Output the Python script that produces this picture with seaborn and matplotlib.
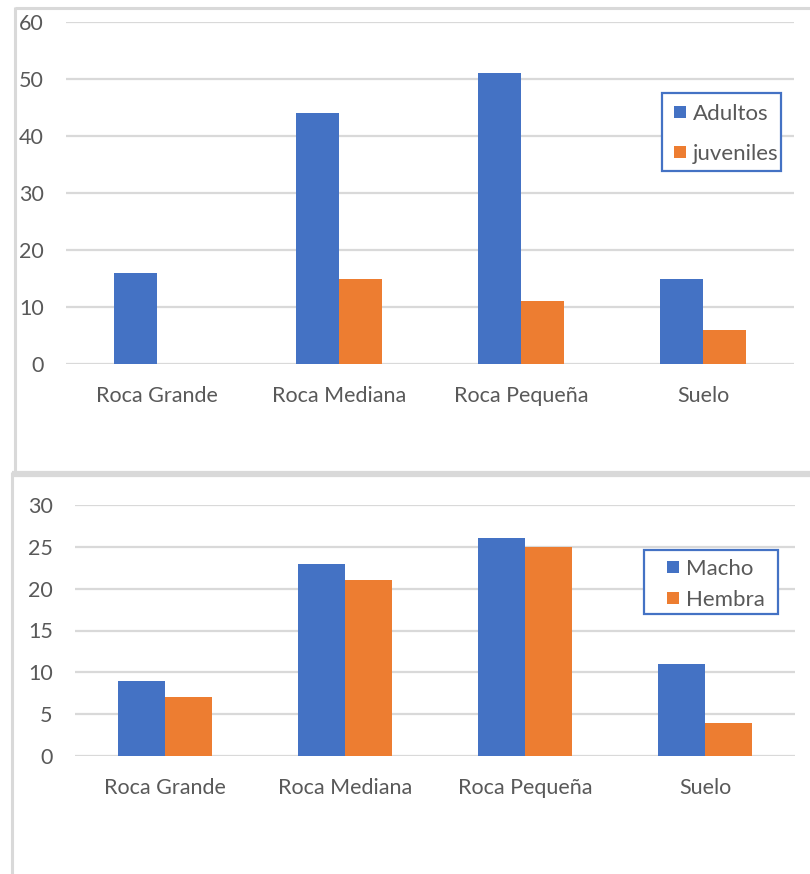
import matplotlib
matplotlib.use("Agg")
import matplotlib.pyplot as plt
from matplotlib.patches import Rectangle
from matplotlib.lines import Line2D
import seaborn as sns
import pandas as pd

# Data
categorias = ["Roca Grande", "Roca Mediana", "Roca Pequeña", "Suelo"]
adultos = [16, 44, 51, 15]
juveniles = [0, 15, 11, 6]
machos = [9, 23, 26, 11]
hembras = [7, 21, 25, 4]

AZUL = "#4472C4"
NARANJA = "#ED7D31"
GRIS_TEXTO = "#595959"
GRIS_LINEA = "#D9D9D9"

sns.set_theme(style="white")
plt.rcParams["font.family"] = ["Lato", "DejaVu Sans"]

W, H = 810, 874
fig = plt.figure(figsize=(W / 100, H / 100), dpi=100)


def caja(x0, y0, x1, y1):
    """Axes rectangle from pixel coordinates (origin top-left)."""
    return [x0 / W, 1 - y1 / H, (x1 - x0) / W, (y1 - y0) / H]


def fx(x):
    return x / W


def fy(y):
    return 1 - y / H


def linea(x0, y0, x1, y1, lw=2.2):
    fig.add_artist(Line2D([fx(x0), fx(x1)], [fy(y0), fy(y1)], transform=fig.transFigure,
                          color=GRIS_LINEA, linewidth=lw, solid_capstyle="butt"))


# Chart frames
linea(15, 8, 812, 8)
linea(15, 7, 15, 473)
linea(12, 473.5, 812, 473.5, lw=4.5)
linea(12, 472, 12, 876)


def grafico(ax, serie_a, serie_b, nombres, ymax, paso, ancho):
    df = pd.DataFrame({
        "categoria": categorias * 2,
        "valor": serie_a + serie_b,
        "serie": [nombres[0]] * len(categorias) + [nombres[1]] * len(categorias),
    })
    sns.barplot(data=df, x="categoria", y="valor", hue="serie",
                palette=[AZUL, NARANJA], width=ancho, ax=ax,
                legend=False, saturation=1, errorbar=None, linewidth=0)
    ax.set_xlim(-0.5, len(categorias) - 0.5)
    ax.set_ylim(0, ymax)
    ax.set_yticks(range(0, ymax + 1, paso))
    ax.set_xlabel("")
    ax.set_ylabel("")
    for s in ax.spines.values():
        s.set_visible(False)
    ax.grid(False)
    for v in range(0, ymax + 1, paso):
        ax.axhline(v, color=GRIS_LINEA, linewidth=1.6, zorder=0)
    ax.set_axisbelow(True)
    ax.tick_params(axis="both", length=0, labelsize=15.5, colors=GRIS_TEXTO)
    ax.tick_params(axis="y", pad=16)
    ax.tick_params(axis="x", pad=16)
    ax.patch.set_alpha(0)


ax1 = fig.add_axes(caja(66, 22, 794, 364))
grafico(ax1, adultos, juveniles, ["Adultos", "juveniles"], 60, 10, 0.47)

ax2 = fig.add_axes(caja(75, 505, 795, 756))
grafico(ax2, machos, hembras, ["Macho", "Hembra"], 30, 5, 0.52)


def leyenda(nombres, marco, x_marca, ys):
    x0, y0, x1, y1 = marco
    fig.add_artist(Rectangle((fx(x0), fy(y1)), fx(x1) - fx(x0), fy(y0) - fy(y1),
                             transform=fig.transFigure, facecolor="white",
                             edgecolor=AZUL, linewidth=1.6))
    for nombre, color, y in zip(nombres, [AZUL, NARANJA], ys):
        fig.add_artist(Rectangle((fx(x_marca), fy(y + 6)), fx(12), fy(0) - fy(12),
                                 transform=fig.transFigure, facecolor=color,
                                 edgecolor="none"))
        fig.text(fx(x_marca + 19), fy(y), nombre, ha="left", va="center_baseline",
                 fontsize=16, color=GRIS_TEXTO)


leyenda(["Adultos", "juveniles"], (662, 93, 781, 171), 674, [112, 152])
leyenda(["Macho", "Hembra"], (644, 550, 778, 614), 667, [567, 598])

fig.savefig("out.png", dpi=100, facecolor="white")
